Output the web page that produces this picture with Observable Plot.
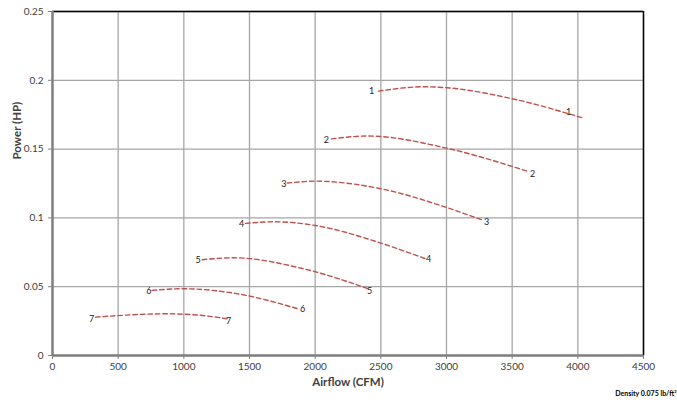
<!DOCTYPE html>
<html>
<head>
<meta charset="utf-8">
<script src="https://cdn.jsdelivr.net/npm/d3@7"></script>
<script src="https://cdn.jsdelivr.net/npm/@observablehq/plot@0.6"></script>
<style>
  html, body { margin: 0; padding: 0; background: #fff; }
  svg { display: block; }
</style>
</head>
<body>
<div id="chart"></div>
<script>
// Fan curves: airflow (CFM) vs power (HP)
const curve1 = [[2482,0.1921],[2825,0.1953],[3000,0.1946],[3500,0.1866],[4033,0.1728]];
const curve2 = [[2124,0.1574],[2400,0.1595],[3000,0.1507],[3500,0.1374],[3619,0.1338]];
const curve3 = [[1787,0.1253],[2000,0.1267],[2500,0.1212],[3000,0.1076],[3284,0.0981]];
const curve4 = [[1470,0.0960],[1690,0.0972],[2000,0.0945],[2500,0.0817],[2840,0.0703]];
const curve5 = [[1140,0.0696],[1380,0.0710],[1900,0.0633],[2400,0.0487]];
const curve6 = [[759,0.0473],[990,0.0485],[1400,0.0450],[1870,0.0339]];
const curve7 = [[327,0.0279],[870,0.0303],[1178,0.0287],[1330,0.0267]];
const curveNames = ["1","2","3","4","5","6","7"];
// label anchor points (data coords) at start and end of each curve
const startLabels = [[2429,0.1919],[2086,0.1568],[1761,0.1248],[1439,0.0952],[1109,0.0691],[733,0.0465],[297,0.0264]];
const endLabels = [[3929,0.1767],[3655,0.1316],[3305,0.0967],[2863,0.0698],[2414,0.0465],[1904,0.0334],[1340,0.0247]];
const xTicks = [0,500,1000,1500,2000,2500,3000,3500,4000,4500];
const yTicks = [0,0.05,0.1,0.15,0.2,0.25];
const xTitle = "Airflow (CFM)";
const yTitle = "Power (HP)";
const note = "Density 0.075 lb/ft³";

const curves = [curve1,curve2,curve3,curve4,curve5,curve6,curve7];
const lineData = curves.flatMap((c,i) => c.map(([x,y]) => ({series: curveNames[i], x, y})));
const labelData = curveNames.flatMap((n,i) => [
  {name: n, x: startLabels[i][0], y: startLabels[i][1]},
  {name: n, x: endLabels[i][0], y: endLabels[i][1]}
]);

const font = "Lato, 'Open Sans', sans-serif";
const gridColor = "#a6a6a6";

const chart = Plot.plot({
  width: 677,
  height: 402,
  marginLeft: 52,
  marginRight: 34,
  marginTop: 11,
  marginBottom: 47,
  style: {fontFamily: font, background: "#fff"},
  x: {domain: [0,4500]},
  y: {domain: [0,0.25]},
  marks: [
    Plot.gridX(xTicks, {stroke: gridColor, strokeOpacity: 1, strokeWidth: 1.3}),
    Plot.gridY(yTicks, {stroke: gridColor, strokeOpacity: 1, strokeWidth: 1.3}),
    Plot.ruleX([4500], {stroke: "#000", strokeWidth: 1.5}),
    Plot.ruleY([0.25], {stroke: "#000", strokeWidth: 1.5}),
    Plot.ruleX([0], {stroke: "#808080", strokeWidth: 2.5}),
    Plot.ruleY([0], {stroke: "#808080", strokeWidth: 2.5}),
    Plot.line(lineData, {x: "x", y: "y", z: "series", curve: "monotone-x",
      stroke: "#c0504d", strokeWidth: 1.4, strokeDasharray: "4.5,3"}),
    Plot.text(labelData, {x: "x", y: "y", text: "name", fontSize: 9, fill: "#222",
      textAnchor: "middle", lineAnchor: "middle"}),
    Plot.axisX(xTicks, {tickSize: 4, tickPadding: 3, fontSize: 10, fill: "#404040",
      stroke: "#808080", label: null, tickFormat: d => String(d)}),
    Plot.axisY(yTicks, {tickSize: 4, tickPadding: 5, fontSize: 10, fill: "#404040",
      stroke: "#808080", label: null, tickFormat: d => String(+d.toFixed(2))}),
    Plot.text([xTitle], {frameAnchor: "bottom", dy: 27, fontSize: 11.5, fontWeight: "bold",
      fill: "#404040", lineAnchor: "middle"}),
    Plot.text([yTitle], {frameAnchor: "left", dx: -35, dy: -24, rotate: -90, fontSize: 11.5,
      fontWeight: "bold", fill: "#404040", lineAnchor: "middle"}),
    Plot.text([note], {frameAnchor: "bottom-right", dx: 33, dy: 38, fontSize: 7,
      fontWeight: "bold", fill: "#000", textAnchor: "end", lineAnchor: "middle"})
  ]
});
document.getElementById("chart").appendChild(chart);
</script>
</body>
</html>
